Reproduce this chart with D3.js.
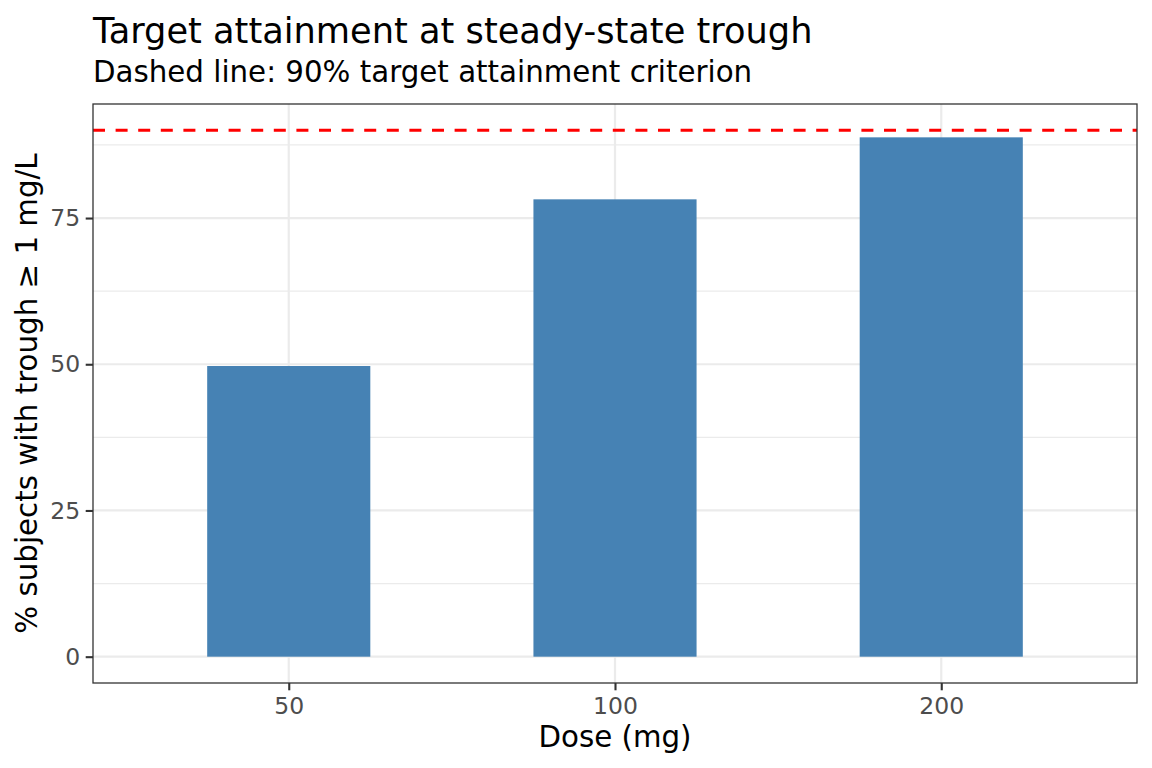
<!DOCTYPE html>
<html>
<head>
<meta charset="utf-8">
<script src="https://cdn.jsdelivr.net/npm/d3@7"></script>
<style>
body{margin:0;background:#fff;}
text{font-family:"DejaVu Sans",sans-serif;}
</style>
</head>
<body>
<svg id="chart" width="1152" height="768"></svg>
<script>
const doses = ["50", "100", "200"];
const attainment = [49.7, 78.2, 88.8];
const targetLine = 90;
const yTicks = [0, 25, 50, 75];
const yMinor = [12.5, 37.5, 62.5, 87.5];

const svg = d3.select("#chart");
const W = 1152, H = 768;
const m = {left: 93, right: 15, top: 104, bottom: 85};
const pw = W - m.left - m.right, ph = H - m.top - m.bottom;

svg.append("rect").attr("width", W).attr("height", H).attr("fill", "#fff");

const g = svg.append("g").attr("transform", `translate(${m.left},${m.top})`);

// Discrete x scale with ggplot-style 0.6 expansion
const xc = d3.scalePoint().domain(doses).range([0, 1]);
const xLin = d3.scaleLinear().domain([-0.6 / 2, 1 + 0.6 / 2]).range([0, pw]);
const x = d => xLin(xc(d));
const step = xLin(0.5) - xLin(0);
const barW = step * 0.5;

const y = d3.scaleLinear().domain([-4.5, 94.5]).range([ph, 0]);

// minor grid
g.selectAll(".ymin").data(yMinor).join("line")
  .attr("x1", 0).attr("x2", pw).attr("y1", d => y(d)).attr("y2", d => y(d))
  .attr("stroke", "#EBEBEB").attr("stroke-width", 1.2);
// major grid
g.selectAll(".ymaj").data(yTicks).join("line")
  .attr("x1", 0).attr("x2", pw).attr("y1", d => y(d)).attr("y2", d => y(d))
  .attr("stroke", "#EBEBEB").attr("stroke-width", 2.2);
g.selectAll(".xmaj").data(doses).join("line")
  .attr("x1", d => x(d)).attr("x2", d => x(d)).attr("y1", 0).attr("y2", ph)
  .attr("stroke", "#EBEBEB").attr("stroke-width", 2.2);

// bars
g.selectAll(".bar").data(doses).join("rect")
  .attr("x", d => x(d) - barW / 2)
  .attr("width", barW)
  .attr("y", (d, i) => y(attainment[i]))
  .attr("height", (d, i) => y(0) - y(attainment[i]))
  .attr("fill", "#4682B4");

// dashed target line
g.append("line")
  .attr("x1", 0).attr("x2", pw)
  .attr("y1", y(targetLine)).attr("y2", y(targetLine))
  .attr("stroke", "#FF0000").attr("stroke-width", 2.9)
  .attr("stroke-dasharray", "12,10.6");

// panel border
g.append("rect").attr("x", 0).attr("y", 0).attr("width", pw).attr("height", ph)
  .attr("fill", "none").attr("stroke", "#333333").attr("stroke-width", 1.3);

// axes
const yAxis = d3.axisLeft(y).tickValues(yTicks).tickSize(7.3).tickPadding(5.5);
const ya = g.append("g").call(yAxis);
ya.select(".domain").remove();
ya.selectAll(".tick line").attr("stroke", "#333333").attr("stroke-width", 2.1);
ya.selectAll(".tick text").attr("fill", "#4D4D4D").style("font-size", "23.5px")
  .style("font-family", "DejaVu Sans");

const xAxis = d3.axisBottom(d3.scaleOrdinal().domain(doses).range(doses.map(x)))
  .tickSize(7.3).tickPadding(5.5);
const xa = g.append("g").attr("transform", `translate(0,${ph})`).call(xAxis);
xa.select(".domain").remove();
xa.selectAll(".tick line").attr("stroke", "#333333").attr("stroke-width", 2.1);
xa.selectAll(".tick text").attr("fill", "#4D4D4D").style("font-size", "23.5px")
  .style("font-family", "DejaVu Sans")
  .attr("dy", null).attr("y", 714 - H + m.bottom);

// titles
svg.append("text").attr("x", 93).attr("y", 42.5).attr("fill", "#000")
  .style("font-size", "35.2px").text("Target attainment at steady-state trough");
svg.append("text").attr("x", 93).attr("y", 82).attr("fill", "#000")
  .style("font-size", "29.3px").text("Dashed line: 90% target attainment criterion");
svg.append("text").attr("x", m.left + pw / 2).attr("y", 746.5).attr("text-anchor", "middle")
  .attr("fill", "#000").style("font-size", "29.3px").text("Dose (mg)");
svg.append("text")
  .attr("transform", `translate(37,${m.top + ph / 2}) rotate(-90)`)
  .attr("text-anchor", "middle").attr("fill", "#000").style("font-size", "29.3px")
  .text("% subjects with trough ≥ 1 mg/L");
</script>
</body>
</html>
